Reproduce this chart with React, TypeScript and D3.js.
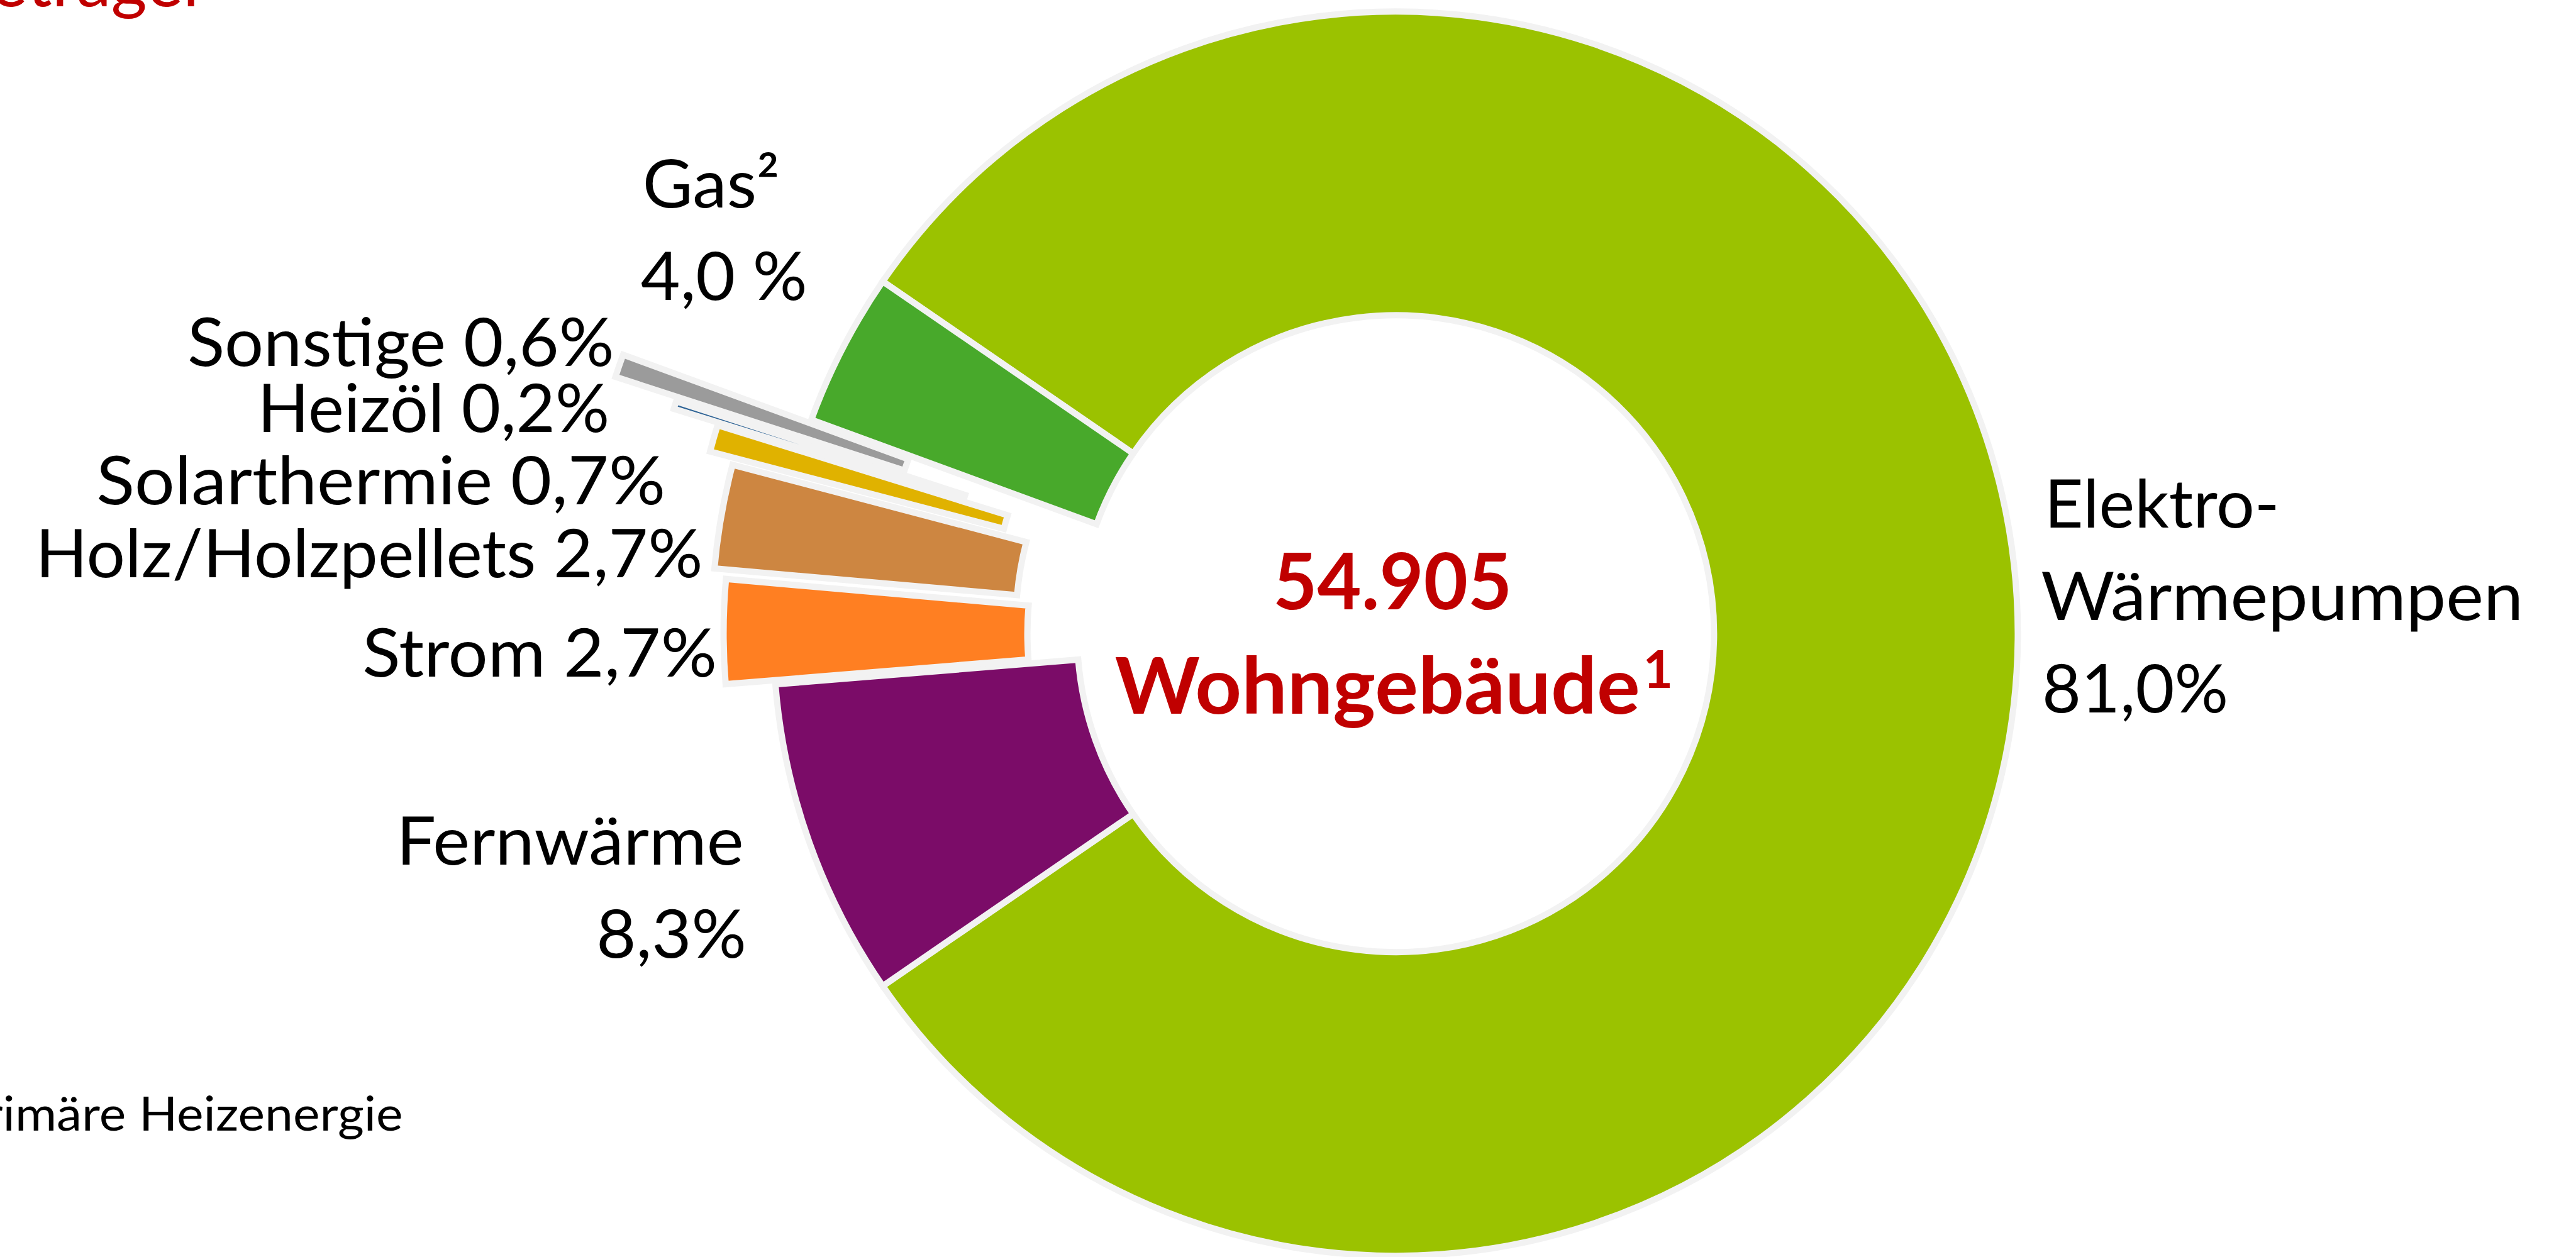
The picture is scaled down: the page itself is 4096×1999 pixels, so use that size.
import React from 'react';
import * as d3 from 'd3';

// ---------- data ----------
const categories = [
  'Elektro-Wärmepumpen',
  'Fernwärme',
  'Strom',
  'Holz/Holzpellets',
  'Solarthermie',
  'Heizöl',
  'Sonstige',
  'Gas',
];
const shares = [81.0, 8.3, 2.7, 2.7, 0.7, 0.2, 0.6, 4.0];
const shareLabels = ['81,0%', '8,3%', '2,7%', '2,7%', '0,7%', '0,2%', '0,6%', '4,0 %'];
const totalLabel = '54.905';
const totalCaption = 'Wohngebäude';
const titleText = 'Energieträger';
const footnoteText = 'primäre Heizenergie';

// ---------- styles / layout ----------
const sliceColors = ['#9BC200', '#7B0C68', '#FF7F22', '#CD8641', '#E0B200', '#2F6496', '#9B9B9B', '#48A92B'];
const explodeFrac = [0, 0, 0.08, 0.1, 0.14, 0.215, 0.32, 0];
const S = 0.613; // reference -> window scale
const W = 4096;
const H = 1999;
const cx = 3620 * S;
const cy = 1644 * S;
const R = 1614 * S;
const R0 = 826 * S;
const RED = '#C00000';
const FONT = "Lato, 'Open Sans', 'Noto Sans', sans-serif";

// label line layout in reference pixels: [x ink start, x ink end, baseline]
type Line = { text: string; x0: number; x1: number; y: number };
const labelLines: Line[] = [
  { text: 'Elektro-', x0: 5308, x1: 5908, y: 1369 },
  { text: 'Wärmepumpen', x0: 5299, x1: 6540, y: 1609 },
  { text: shareLabels[0], x0: 5302, x1: 5775, y: 1849 },
  { text: categories[1], x0: 1033, x1: 1924, y: 2243 },
  { text: shareLabels[1], x0: 1552, x1: 1931, y: 2484 },
  { text: `${categories[2]} ${shareLabels[2]}`, x0: 945, x1: 1855, y: 1756 },
  { text: `${categories[3]} ${shareLabels[3]}`, x0: 97, x1: 1818, y: 1497 },
  { text: `${categories[4]} ${shareLabels[4]}`, x0: 255, x1: 1721, y: 1309 },
  { text: `${categories[5]} ${shareLabels[5]}`, x0: 673, x1: 1576, y: 1121 },
  { text: `${categories[6]} ${shareLabels[6]}`, x0: 491, x1: 1588, y: 949 },
  { text: `${categories[7]}²`, x0: 1672, x1: 2017, y: 539 },
  { text: shareLabels[7], x0: 1667, x1: 2089, y: 778 },
];

export default function App() {
  const total = d3.sum(shares);
  const start = Math.PI / 2 - (Math.PI * shares[0]) / total;
  const pie = d3
    .pie<number>()
    .sort(null)
    .value((d) => d)
    .startAngle(start)
    .endAngle(start + 2 * Math.PI);
  const arcs = pie(shares);
  const arcGen = d3
    .arc<d3.PieArcDatum<number>>()
    .innerRadius(R0)
    .outerRadius(R);

  const pad = 5; // side bearing allowance (reference px)

  return (
    <svg
      width={W}
      height={H}
      viewBox={`0 0 ${W} ${H}`}
      style={{ position: 'fixed', left: 0, top: 0, display: 'block', background: '#fff' }}
    >
      <rect x={0} y={0} width={W} height={H} fill="#fff" />
      {/* title fragment */}
      <text
        x={540 * S}
        y={17 * S}
        textAnchor="end"
        fontFamily={FONT}
        fontSize={110}
        fill={RED}
      >
        {titleText}
      </text>

      {/* slices */}
      <g transform={`translate(${cx},${cy})`}>
        {arcs.map((a, i) => {
          const mid = (a.startAngle + a.endAngle) / 2;
          const d = explodeFrac[i] * R;
          const dx = Math.sin(mid) * d;
          const dy = -Math.cos(mid) * d;
          return (
            <path
              key={categories[i]}
              d={arcGen(a) || ''}
              transform={`translate(${dx},${dy})`}
              fill={sliceColors[i]}
              stroke="#F2F2F2"
              strokeWidth={10}
              strokeLinejoin="miter"
            />
          );
        })}
      </g>

      {/* labels */}
      {labelLines.map((l, i) => (
        <text
          key={i}
          x={(l.x0 - pad) * S}
          y={l.y * S}
          fontFamily={FONT}
          fontSize={107}
          fill="#000"
          textLength={(l.x1 - l.x0 + 2 * pad) * S}
          lengthAdjust="spacingAndGlyphs"
        >
          {l.text}
        </text>
      ))}

      {/* center text */}
      <text
        x={(3307 - pad) * S}
        y={1580 * S}
        fontFamily={FONT}
        fontWeight={700}
        fontSize={124}
        fill={RED}
        textLength={(3917 - 3307 + 2 * pad) * S}
        lengthAdjust="spacingAndGlyphs"
      >
        {totalLabel}
      </text>
      <text
        x={(2897 - pad) * S}
        y={1851 * S}
        fontFamily={FONT}
        fontWeight={700}
        fontSize={124}
        fill={RED}
        textLength={(4249 - 2897 + 2 * pad) * S}
        lengthAdjust="spacingAndGlyphs"
      >
        {totalCaption}
      </text>
      <text
        x={4262 * S}
        y={1784 * S}
        fontFamily={FONT}
        fontWeight={700}
        fontSize={82}
        fill={RED}
      >
        1
      </text>

      {/* footnote fragment */}
      <text
        x={(1045 - 1159) * S}
        y={2933 * S}
        fontFamily={FONT}
        fontSize={76}
        fill="#000"
        textLength={1159 * S}
        lengthAdjust="spacingAndGlyphs"
      >
        {footnoteText}
      </text>
    </svg>
  );
}
